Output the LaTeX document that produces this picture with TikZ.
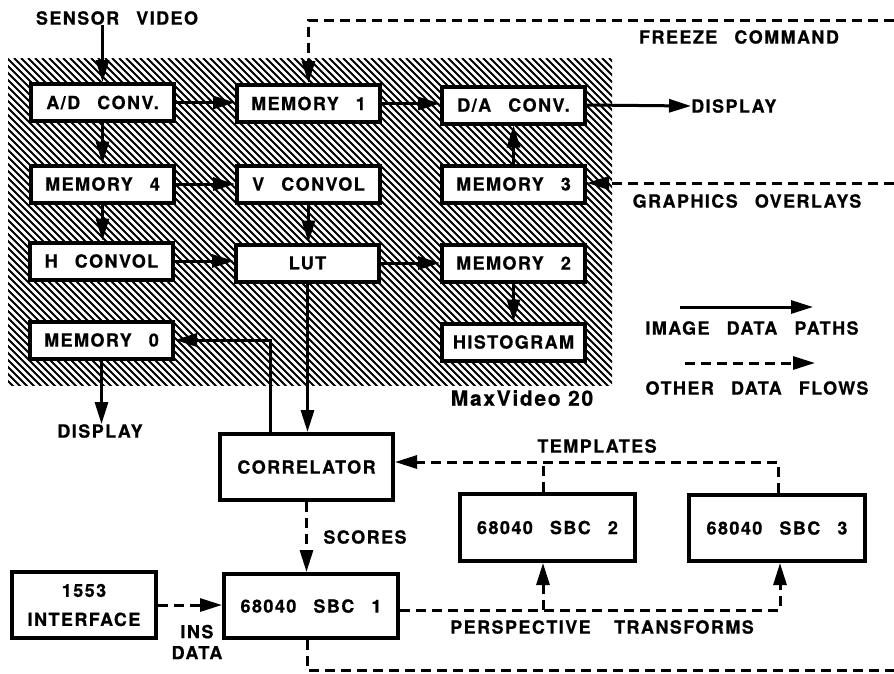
\documentclass[tikz,border=0pt]{standalone}
\usepackage{fontspec}
\setmainfont{TeX Gyre Heros}[LetterSpace=8, BoldFeatures={FakeBold=0.6}]
\usetikzlibrary{arrows.meta}
\newcommand\gap{\hspace{0.95em}}
\begin{document}
\begin{tikzpicture}[x=1pt,y=-1pt,
  lbl/.style={font=\fontsize{18}{24}\selectfont\bfseries, inner sep=0pt, align=center},
  box/.style={lbl, draw, line width=4pt, fill=white, minimum width=143pt, minimum height=37pt},
  bigbox/.style={lbl, draw, line width=4pt, fill=white},
  img/.style={line width=3pt, -{Triangle[length=22pt,width=13pt]}},
  oth/.style={line width=3pt, dash pattern=on 10pt off 6pt, -{Triangle[length=22pt,width=13pt]}},
  othline/.style={line width=3pt, dash pattern=on 10pt off 6pt}
]
\useasboundingbox (0,0) rectangle (894,673);
\fill[white] (0,0) rectangle (894,673);
% hatched MaxVideo area
\begin{scope}
  \clip (8,58) rectangle (612,385);
  \foreach \i in {-336,-329,...,612} \draw[line width=2pt] (\i,58) -- ++(340,340);
\end{scope}
% MaxVideo boxes
\node[box] (ad)   at (102.5,102.5) {A/D\gap CONV.};
\node[box] (m1)   at (308.5,103.5) {MEMORY\gap 1};
\node[box] (da)   at (513.5,105)   {D/A\gap CONV.};
\node[box] (m4)   at (102.5,184)   {MEMORY\gap 4};
\node[box] (vc)   at (308.5,184)   {V\gap CONVOL};
\node[box] (m3)   at (513.5,184)   {MEMORY\gap 3};
\node[box] (hc)   at (101.5,261)   {H\gap CONVOL};
\node[box] (lut)  at (307.5,263)   {LUT};
\node[box] (m2)   at (513.5,263)   {MEMORY\gap 2};
\node[box] (m0)   at (101.5,340)   {MEMORY\gap 0};
\node[box] (hist) at (513.5,342)   {HISTOGRAM};
% other boxes
\node[bigbox, minimum width=173pt, minimum height=66pt] (corr) at (306.5,467) {CORRELATOR};
\node[bigbox, minimum width=144pt, minimum height=66pt, font=\fontsize{18}{29}\selectfont\bfseries] (ifc) at (84,605) {1553\\INTERFACE};
\node[bigbox, minimum width=174pt, minimum height=64pt] (sbc1) at (311,606) {68040\gap SBC\gap 1};
\node[bigbox, minimum width=175pt, minimum height=67pt] (sbc2) at (547.5,527.5) {68040\gap SBC\gap 2};
\node[bigbox, minimum width=176pt, minimum height=66pt] (sbc3) at (777,528) {68040\gap SBC\gap 3};
% labels
\node[lbl] (sv)    at (117,18)  {SENSOR\gap VIDEO};
\node[lbl] (fz)    at (739,37)  {FREEZE\gap COMMAND};
\node[lbl, anchor=west] (disp1) at (691,106) {DISPLAY};
\node[lbl] (go)    at (747,201) {GRAPHICS\gap OVERLAYS};
\node[lbl] (disp2) at (100,431) {DISPLAY};
\node[lbl, font=\fontsize{21}{24}\selectfont\bfseries] (mv) at (522,398) {MaxVideo 20};
\node[lbl] (idp)   at (752,328) {IMAGE\gap DATA\gap PATHS};
\node[lbl] (odf)   at (757,388) {OTHER\gap DATA\gap FLOWS};
\node[lbl] (sc)    at (365,537) {SCORES};
\node[lbl, font=\fontsize{18}{21}\selectfont\bfseries] (ins) at (197,642) {INS\\DATA};
\node[lbl] (tpl)   at (597,446) {TEMPLATES};
\node[lbl] (pt)    at (602,627) {PERSPECTIVE\hspace{1.3em}TRANSFORMS};
% edge coordinates
\coordinate (fzR) at (894,20);
\coordinate (goR) at (894,183);
\coordinate (botR) at (894,670);
\coordinate (lg1a) at (680,307);
\coordinate (lg1b) at (813,307);
\coordinate (lg2a) at (685,363);
\coordinate (lg2b) at (815,363);
\coordinate (cm0) at ([xshift=-36.5pt]corr.north);
\coordinate (s1b) at ([xshift=-4pt]sbc1.south);
\coordinate (s1e) at ([yshift=-4pt]sbc1.east);
\coordinate (s2b) at ([xshift=-4.5pt]sbc2.south);
\coordinate (s2t) at ([xshift=-4.5pt]sbc2.north);
\coordinate (s3b) at ([xshift=3pt]sbc3.south);
\coordinate (s3t) at ([xshift=1pt]sbc3.north);
\coordinate (ce) at ([yshift=5pt]corr.east);
% image data paths
\draw[img] (sv.south -| ad.north) -- (ad.north);
\draw[img] (ad.east) -- (ad.east -| m1.west);
\draw[img] (m1.east) -- (m1.east -| da.west);
\draw[img] (da.east) -- (disp1.west);
\draw[img] (m3.north) -- (da.south);
\draw[img] (ad.south) -- (m4.north);
\draw[img] (m4.east) -- (vc.west);
\draw[img] (m4.south) -- (m4.south |- hc.north);
\draw[img] (vc.south) -- (vc.south |- lut.north);
\draw[img] (hc.east) -- (hc.east -| lut.west);
\draw[img] (lut.east) -- (lut.east -| m2.west);
\draw[img] (m2.south) -- (hist.north);
\draw[img] (m0.south) -- (m0.south |- disp2.north);
\draw[img] (lut.south) -- (lut.south |- corr.north);
\draw[img] (cm0) |- (m0.east);
% other data flows
\draw[oth] (fzR) -| (m1.north);
\draw[oth] (goR) -- (goR -| m3.east);
\draw[oth] (corr.south) -- (corr.south |- sbc1.north);
\draw[oth] (ifc.east) -- (ifc.east -| sbc1.west);
\draw[othline] (s1b) |- (botR);
\draw[oth] (s1e) -| (s3b);
\draw[oth] (s2b |- s1e) -- (s2b);
\draw[oth] (s3t) |- (ce);
\draw[othline] (s2t) -- (s2t |- ce);
% legend
\draw[img] (lg1a) -- (lg1b);
\draw[oth] (lg2a) -- (lg2b);
\end{tikzpicture}
\end{document}
